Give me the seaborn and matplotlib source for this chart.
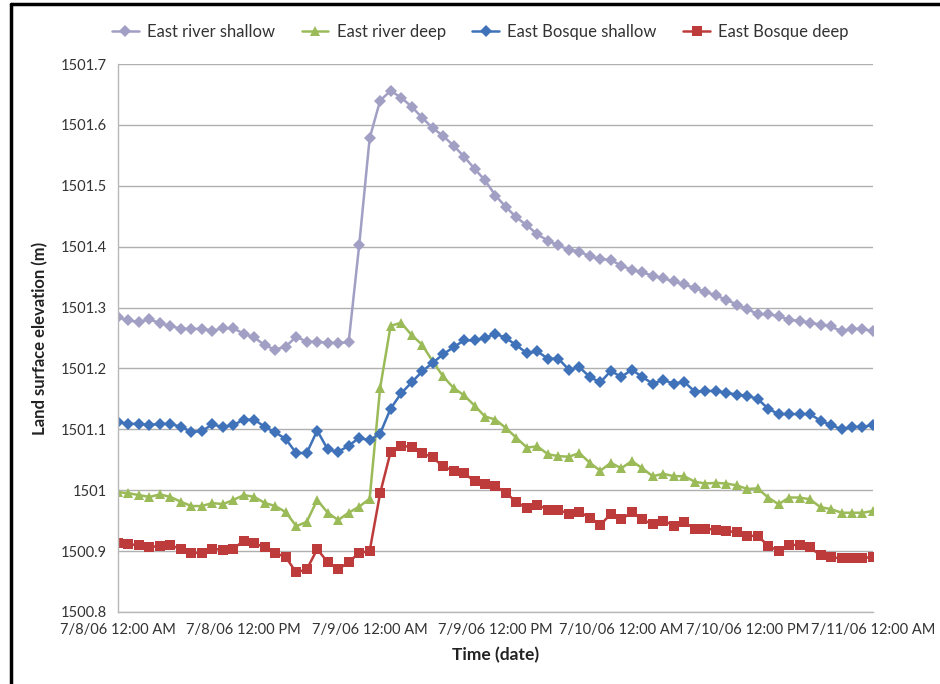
import numpy as np
import pandas as pd
import seaborn as sns
import matplotlib.pyplot as plt
from matplotlib.lines import Line2D

# hourly readings, 7/8/06 00:00 .. 7/11/06 00:00
times = pd.date_range('2006-07-08 00:00', '2006-07-11 00:00', freq='h')

east_river_shallow = [
    1501.284, 1501.279, 1501.276, 1501.281, 1501.274, 1501.270, 1501.265, 1501.265,
    1501.265, 1501.262, 1501.266, 1501.266, 1501.257, 1501.251, 1501.238, 1501.231,
    1501.236, 1501.252, 1501.244, 1501.244, 1501.242, 1501.242, 1501.243, 1501.402,
    1501.578, 1501.640, 1501.656, 1501.645, 1501.630, 1501.612, 1501.595, 1501.582,
    1501.566, 1501.548, 1501.528, 1501.509, 1501.484, 1501.465, 1501.448, 1501.435,
    1501.420, 1501.410, 1501.402, 1501.395, 1501.392, 1501.384, 1501.380, 1501.378,
    1501.369, 1501.362, 1501.358, 1501.352, 1501.348, 1501.343, 1501.338, 1501.332,
    1501.326, 1501.320, 1501.313, 1501.305, 1501.298, 1501.289, 1501.289, 1501.286,
    1501.280, 1501.278, 1501.275, 1501.272, 1501.269, 1501.261, 1501.265, 1501.265,
    1501.261]

east_river_deep = [
    1500.997, 1500.995, 1500.992, 1500.989, 1500.993, 1500.989, 1500.981, 1500.974,
    1500.974, 1500.979, 1500.977, 1500.984, 1500.992, 1500.989, 1500.979, 1500.974,
    1500.964, 1500.941, 1500.948, 1500.984, 1500.963, 1500.951, 1500.963, 1500.973,
    1500.986, 1501.168, 1501.270, 1501.275, 1501.255, 1501.239, 1501.212, 1501.187,
    1501.168, 1501.156, 1501.139, 1501.121, 1501.116, 1501.102, 1501.086, 1501.070,
    1501.072, 1501.059, 1501.056, 1501.055, 1501.061, 1501.045, 1501.032, 1501.045,
    1501.036, 1501.048, 1501.036, 1501.023, 1501.027, 1501.023, 1501.023, 1501.014,
    1501.011, 1501.012, 1501.011, 1501.008, 1501.002, 1501.003, 1500.988, 1500.977,
    1500.988, 1500.988, 1500.985, 1500.972, 1500.969, 1500.963, 1500.963, 1500.963,
    1500.966]

east_bosque_shallow = [
    1501.112, 1501.109, 1501.109, 1501.107, 1501.109, 1501.109, 1501.104, 1501.096,
    1501.097, 1501.108, 1501.104, 1501.107, 1501.116, 1501.116, 1501.104, 1501.095,
    1501.084, 1501.061, 1501.061, 1501.098, 1501.067, 1501.063, 1501.073, 1501.086,
    1501.082, 1501.093, 1501.134, 1501.159, 1501.177, 1501.195, 1501.209, 1501.223,
    1501.235, 1501.246, 1501.246, 1501.250, 1501.257, 1501.250, 1501.238, 1501.225,
    1501.228, 1501.216, 1501.216, 1501.198, 1501.202, 1501.186, 1501.177, 1501.196,
    1501.186, 1501.198, 1501.186, 1501.175, 1501.181, 1501.175, 1501.178, 1501.162,
    1501.163, 1501.163, 1501.160, 1501.157, 1501.155, 1501.150, 1501.134, 1501.125,
    1501.125, 1501.125, 1501.125, 1501.114, 1501.107, 1501.100, 1501.104, 1501.104,
    1501.107]

east_bosque_deep = [
    1500.914, 1500.911, 1500.910, 1500.906, 1500.909, 1500.910, 1500.903, 1500.897,
    1500.897, 1500.904, 1500.902, 1500.904, 1500.917, 1500.913, 1500.906, 1500.897,
    1500.890, 1500.865, 1500.870, 1500.903, 1500.882, 1500.870, 1500.882, 1500.897,
    1500.900, 1500.995, 1501.063, 1501.073, 1501.071, 1501.061, 1501.054, 1501.039,
    1501.032, 1501.028, 1501.015, 1501.011, 1501.007, 1500.995, 1500.981, 1500.970,
    1500.976, 1500.968, 1500.968, 1500.961, 1500.964, 1500.955, 1500.943, 1500.961,
    1500.952, 1500.964, 1500.952, 1500.944, 1500.950, 1500.942, 1500.947, 1500.937,
    1500.937, 1500.935, 1500.933, 1500.931, 1500.925, 1500.925, 1500.909, 1500.900,
    1500.910, 1500.910, 1500.906, 1500.893, 1500.890, 1500.888, 1500.888, 1500.888,
    1500.891]

tick_times = pd.date_range('2006-07-08 00:00', '2006-07-11 00:00', freq='12h')
tick_labels = ['7/8/06 12:00 AM', '7/8/06 12:00 PM', '7/9/06 12:00 AM', '7/9/06 12:00 PM',
               '7/10/06 12:00 AM', '7/10/06 12:00 PM', '7/11/06 12:00 AM']
y_ticks = [1500.8, 1500.9, 1501.0, 1501.1, 1501.2, 1501.3, 1501.4, 1501.5, 1501.6, 1501.7]

df = pd.DataFrame({
    'time': times,
    'East river shallow': east_river_shallow,
    'East river deep': east_river_deep,
    'East Bosque shallow': east_bosque_shallow,
    'East Bosque deep': east_bosque_deep,
})
long_df = df.melt(id_vars='time', var_name='series', value_name='elev')

styles = {
    'East river shallow': ('#A19FC4', 'D', 6),
    'East river deep': ('#9BBB59', '^', 7),
    'East Bosque shallow': ('#3F72B8', 'D', 6),
    'East Bosque deep': ('#BE3B3B', 's', 6.5),
}

sns.set_style('white')
plt.rcParams['font.family'] = ['Lato', 'DejaVu Sans']

fig = plt.figure(figsize=(9.4, 6.84), dpi=100)
ax = fig.add_axes([0.1255, 0.1053, 0.8032, 0.8011])

for name, (color, marker, ms) in styles.items():
    sub = long_df[long_df['series'] == name]
    sns.lineplot(data=sub, x='time', y='elev', ax=ax, color=color, marker=marker,
                 markersize=ms, markeredgewidth=0, linewidth=1.8, label=name)

ax.set_xlim(times[0], times[-1])
ax.set_ylim(1500.8, 1501.7)
ax.set_yticks(y_ticks)
ax.set_yticklabels([f'{v:g}' for v in y_ticks])
ax.set_xticks(tick_times)
ax.set_xticklabels(tick_labels)

ax.grid(axis='y', color='#B0B0B0', linewidth=1)
ax.grid(axis='x', visible=False)
for side in ['top', 'right']:
    ax.spines[side].set_visible(False)
for side in ['left', 'bottom']:
    ax.spines[side].set_color('#B8B8B8')
    ax.spines[side].set_linewidth(1)
ax.tick_params(axis='both', which='major', direction='out', length=5, width=1,
               color='#B8B8B8', labelsize=10.5, labelcolor='#333333', pad=3)

ax.set_xlabel('Time (date)', fontsize=12.5, fontweight='bold', color='#222222', labelpad=7)
ax.set_ylabel('Land surface elevation (m)', fontsize=12, fontweight='bold', color='#222222', labelpad=9)

handles, labels = ax.get_legend_handles_labels()
ax.get_legend().remove()
fig.legend(handles, labels, loc='center', bbox_to_anchor=(0.511, 0.953), ncol=4,
           frameon=False, fontsize=12, handlelength=1.6, handletextpad=0.5,
           columnspacing=1.6, labelcolor='#333333')

# black frame on the left and top edge as in the source screenshot
fig.add_artist(Line2D([11 / 940, 11 / 940], [0, 1 - 4 / 684], color='black', linewidth=2.5))
fig.add_artist(Line2D([11 / 940, 1], [1 - 4 / 684, 1 - 4 / 684], color='black', linewidth=2.5))

fig.savefig('out.png', dpi=100)
